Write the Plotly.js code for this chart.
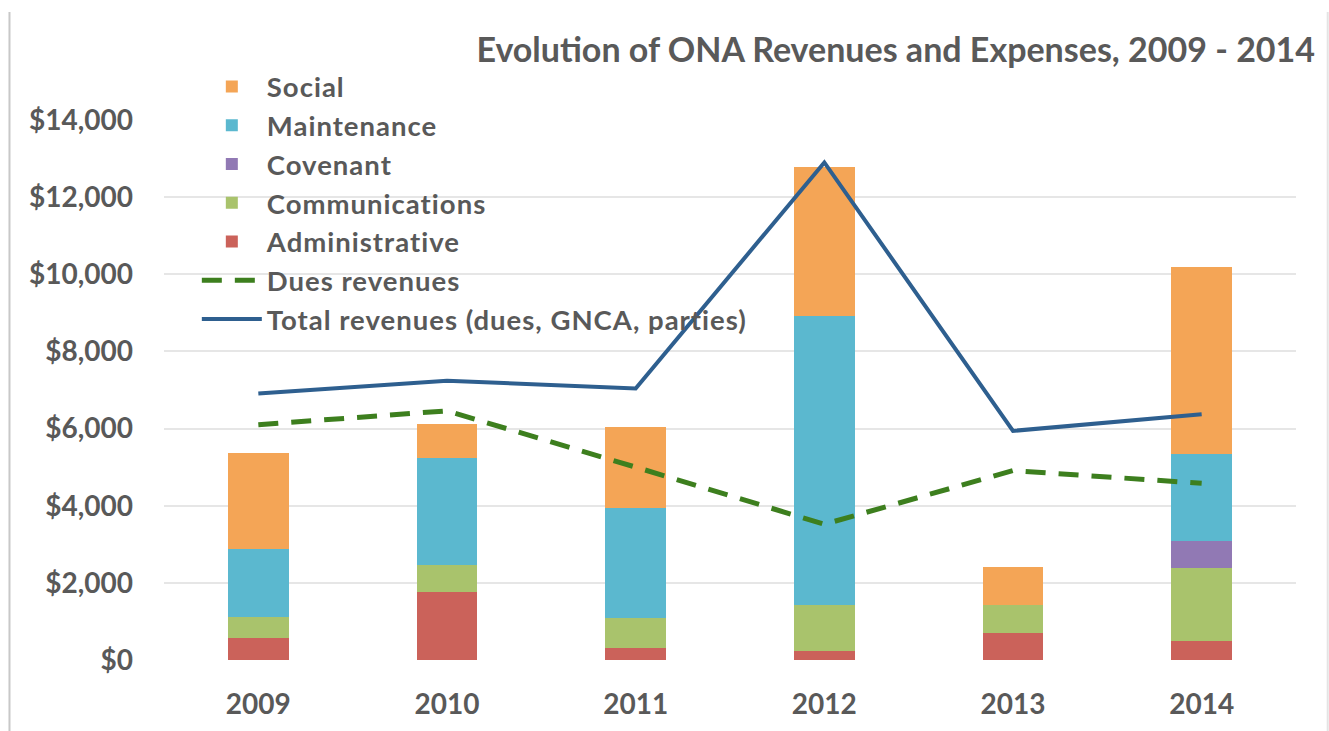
<!DOCTYPE html>
<html>
<head>
<meta charset="utf-8">
<script src="https://cdn.plot.ly/plotly-3.0.1.min.js"></script>
<style>html,body{margin:0;padding:0;background:#fff;}#chart{width:1329px;height:731px;}.legendtext{letter-spacing:1px;}</style>
</head>
<body>
<div id="chart"></div>
<script>
const years = ['2009', '2010', '2011', '2012', '2013', '2014'];
const administrative = [580, 1760, 310, 240, 690, 480];
const communications = [530, 695, 775, 1190, 745, 1910];
const covenant = [0, 0, 0, 0, 0, 700];
const maintenance = [1760, 2775, 2850, 7480, 0, 2260];
const social = [2490, 885, 2110, 3860, 970, 4840];
const duesRevenues = [6100, 6460, 5000, 3520, 4910, 4580];
const totalRevenues = [6910, 7240, 7040, 12900, 5940, 6370];

const FONT = 'Lato, "Open Sans", sans-serif';
const GREY = '#595959';

function barTrace(name, values, color, rank) {
  return {
    type: 'bar', name: name, x: years, y: values,
    marker: {color: color, line: {width: 0}},
    legendrank: rank, legendgroup: name,
    hoverinfo: 'name+y'
  };
}

const data = [
  barTrace('Administrative', administrative, '#CB625A', 5),
  barTrace('Communications', communications, '#A9C36C', 4),
  barTrace('Covenant', covenant, '#9179B4', 3),
  barTrace('Maintenance', maintenance, '#5BB8CF', 2),
  barTrace('Social', social, '#F4A556', 1),
  {
    type: 'scatter', mode: 'lines', name: 'Dues revenues', x: years, y: duesRevenues,
    line: {color: '#3D7F1E', width: 5, dash: '20px,13px'},
    legendrank: 6, legendgroup: 'dues'
  },
  {
    type: 'scatter', mode: 'lines', name: 'Total revenues (dues, GNCA, parties)', x: years, y: totalRevenues,
    line: {color: '#2E5F8F', width: 4},
    legendrank: 7, legendgroup: 'total'
  }
];

const layout = {
  width: 1329, height: 731,
  paper_bgcolor: '#ffffff', plot_bgcolor: '#ffffff',
  margin: {l: 164, r: 33, t: 120, b: 71},
  barmode: 'stack', bargap: 0.68,
  font: {family: FONT, color: GREY},
  title: {
    text: 'Evolution of ONA Revenues and Expenses, 2009 - 2014',
    font: {family: FONT, size: 34, color: GREY, weight: 'bold'},
    xref: 'container', x: 0.9895, xanchor: 'right',
    yref: 'container', y: 0.932, yanchor: 'middle'
  },
  xaxis: {
    type: 'category',
    tickfont: {family: FONT, size: 28, color: GREY, weight: 'bold'},
    showgrid: false, zeroline: false, showline: false, ticks: '',
    ticklabelstandoff: 25
  },
  yaxis: {
    range: [0, 14000], dtick: 2000, tickprefix: '$', tickformat: ',d',
    tickfont: {family: FONT, size: 28, color: GREY, weight: 'bold'},
    showgrid: true, gridcolor: '#E6E6E6', gridwidth: 2,
    zeroline: false, showline: false, ticks: '',
    ticklabelstandoff: 30
  },
  legend: {
    x: 0.029, xanchor: 'left', y: 1.107, yanchor: 'top',
    bgcolor: 'rgba(0,0,0,0)',
    font: {family: FONT, size: 27.5, color: GREY, weight: 'bold'},
    tracegroupgap: 0, itemwidth: 60
  },
  shapes: [
    {type: 'line', xref: 'paper', yref: 'paper', x0: -0.1365, x1: -0.1365, y0: -0.2, y1: 1.2, line: {color: '#C8C8C8', width: 2}},
    {type: 'line', xref: 'paper', yref: 'paper', x0: 1.028, x1: 1.028, y0: -0.2, y1: 1.2, line: {color: '#E4E4E4', width: 2}}
  ],
  showlegend: true
};

Plotly.newPlot('chart', data, layout, {displayModeBar: false, responsive: false});
</script>
</body>
</html>
